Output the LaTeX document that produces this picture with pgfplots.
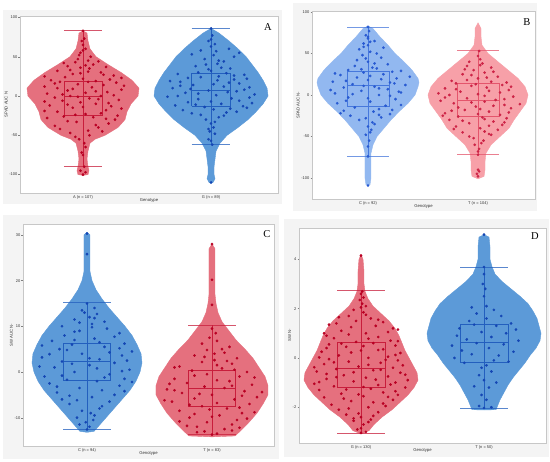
\documentclass[border=0pt]{standalone}
\usepackage{pgfplots}
\pgfplotsset{compat=1.18}
\usepackage{pgfplotstable}
\usepackage{fontspec}
\setmainfont{Liberation Sans}
\newfontfamily\serifletter{Liberation Serif}

\definecolor{redfill}{RGB}{229,112,126}
\definecolor{redline}{RGB}{200,30,60}
\definecolor{reddot}{RGB}{185,0,35}
\definecolor{bluefill}{RGB}{92,154,216}
\definecolor{blueline}{RGB}{35,95,190}
\definecolor{bluedot}{RGB}{20,70,180}
\definecolor{blueBfill}{RGB}{146,184,240}
\definecolor{blueBline}{RGB}{70,120,220}
\definecolor{blueBdot}{RGB}{40,90,210}
\definecolor{redBfill}{RGB}{247,160,168}
\definecolor{redBline}{RGB}{228,85,108}
\definecolor{redBdot}{RGB}{205,35,70}
\definecolor{panelbg}{RGB}{244,244,244}

% ---------- violin outlines: y, half-width in px ----------
\pgfplotstableread{
y w
83 0
80 4
70 5
60 7
50 13
40 25
30 38
20 49
10 56
0 55
-10 48
-20 44
-30 42
-40 35
-50 22
-55 12
-60 7
-70 5
-80 4
-90 5
-95 6
-100 5
-101 0
}\vAr
\pgfplotstableread{
y w
86 0
80 8
70 18
60 27
50 35
40 41
30 47
20 52
10 56
0 57
-10 52
-20 45
-30 37
-40 27
-50 16
-60 9
-70 5
-80 4
-90 3
-100 3
-105 4
-110 2
-111 0
}\vAb
\pgfplotstableread{
y w
83 0
80 5
70 12
60 20
50 27
40 36
30 44
20 50
15 51
10 50
0 47
-10 40
-20 31
-30 23
-40 16
-50 9
-60 5
-70 3
-80 3
-90 3
-100 3
-108 2
-109 0
}\vBb
\pgfplotstableread{
y w
87 0
80 3
70 3
60 4
50 10
40 20
30 30
20 40
10 47
0 50
-10 48
-20 42
-30 36
-40 31
-50 22
-60 13
-70 8
-80 7
-90 7
-98 6
-101 0
}\vBr
\pgfplotstableread{
y w
30.6 0
30 3
28 3
25 3
22 3
20 5
18 9
16 15
14 22
12 30
10 38
8 45
6 50
4 54
2 55
0 53
-2 49
-4 43
-6 35
-8 27
-10 19
-12 11
-13 7
-13.2 0
}\vCb
\pgfplotstableread{
y w
28 0
27 3
24 3
20 3
17 3
15 4
13 6
11 10
9 17
7 24
5 33
3 41
1 47
-1 53
-3 56
-5 56
-7 51
-9 45
-11 37
-13 28
-14 23
-14.2 0
}\vCr
\pgfplotstableread{
y w
4.2 0
4.0 2
3.5 3
3.0 3
2.7 4
2.4 7
2.1 12
1.8 20
1.5 28
1.2 34
0.9 38
0.6 41
0.3 44
0 48
-0.3 52
-0.6 56
-0.9 57
-1.2 53
-1.5 47
-1.8 39
-2.1 31
-2.4 21
-2.7 13
-2.95 8
-3.08 0
}\vDr
\pgfplotstableread{
y w
5.0 0
4.9 5
4.5 6
4.0 6
3.7 8
3.4 11
3.1 18
2.8 27
2.5 36
2.2 44
1.9 49
1.6 53
1.3 55
1.0 57
0.7 56
0.4 52
0.1 46
-0.2 41
-0.5 35
-0.8 29
-1.1 24
-1.4 20
-1.7 16
-2.0 13
-2.1 12
-2.11 0
}\vDb

% ---------- jittered observations: y, horizontal offset ----------
\pgfplotstableread{
y dx
-100 0.00
-97 0.02
-95 -0.02
-90 0.01
-75 0.00
-72 -0.01
-60 0.01
-55 -0.03
-50 0.05
-47 -0.10
-45 0.15
-42 -0.18
-40 0.12
-38 -0.22
-35 0.20
-33 -0.05
-30 0.25
-28 -0.28
-27 0.08
-26 -0.15
-25 0.27
-23 0.02
-20 -0.20
-18 0.18
-15 -0.08
-13 0.22
-12 -0.26
-10 0.10
-8 -0.02
-6 -0.16
-5 0.28
-3 0.05
-2 -0.22
0 0.14
0 -0.10
1 0.24
3 -0.28
4 0.02
5 0.19
7 -0.12
8 0.30
10 -0.20
11 0.07
12 -0.30
14 0.16
15 -0.04
17 0.26
18 -0.18
19 0.10
20 -0.25
21 0.21
22 0.00
24 -0.14
26 0.24
28 -0.08
30 0.14
32 -0.20
35 0.05
37 0.18
38 -0.12
40 0.08
42 -0.15
44 0.12
47 -0.04
50 0.06
55 -0.02
60 0.02
65 0.00
73 0.01
83 0.00
-65 0.02
-52 -0.06
-44 0.04
-37 0.10
-32 -0.12
-29 0.18
-24 -0.06
-22 0.14
-19 -0.30
-16 0.30
-14 0.00
-11 -0.12
-9 0.20
-7 -0.30
-4 0.12
-1 -0.04
2 -0.16
6 0.10
9 -0.08
13 0.32
16 -0.22
18 0.04
23 0.30
25 -0.30
27 0.16
29 -0.02
31 0.04
33 -0.10
36 -0.02
39 0.02
43 -0.06
45 0.04
52 -0.03
58 0.00
70 -0.01
}\pAr
\pgfplotstableread{
y dx
-110 0
-62 0.01
-55 -0.02
-48 0.03
-45 -0.01
-40 0.02
-35 0.00
-30 -0.04
-27 0.06
-25 0.10
-22 -0.15
-20 0.20
-18 -0.22
-16 0.15
-14 -0.05
-13 0.25
-12 -0.28
-10 0.08
-8 -0.18
-6 0.22
-4 -0.10
-2 0.30
0 -0.26
1 0.04
2 0.34
4 -0.20
5 0.13
7 -0.02
8 0.26
10 -0.30
12 0.10
14 -0.14
16 0.22
18 -0.24
20 0.05
22 0.28
24 -0.08
26 0.18
28 -0.26
29 0.12
32 0.00
35 0.15
38 -0.12
41 0.05
44 0.10
47 -0.05
50 0.18
53 -0.15
55 0.22
57 0.04
58 -0.08
60 0.14
63 0.00
66 0.03
70 -0.02
72 0.00
77 0.01
86 0.00
-57 0.00
-42 -0.02
-33 0.03
-24 -0.08
-21 0.12
-17 0.02
-15 0.28
-11 -0.12
-9 0.32
-7 0.00
-3 0.16
-1 -0.34
3 -0.10
6 0.20
9 -0.16
11 0.30
13 -0.24
15 0.02
17 0.14
19 -0.32
21 0.18
23 -0.18
25 0.06
27 0.26
30 -0.10
34 -0.02
36 0.08
40 -0.04
45 0.06
52 0.02
}\pAb
\pgfplotstableread{
y dx
-109 0
-74 0.00
-55 0.01
-48 -0.02
-42 0.03
-38 0.00
-35 0.06
-30 -0.08
-27 0.12
-25 -0.16
-23 0.20
-22 -0.25
-20 0.05
-18 0.22
-15 -0.12
-13 0.16
-10 -0.28
-8 0.02
-5 0.25
-3 -0.18
0 0.10
2 -0.30
3 0.30
5 -0.06
7 0.18
9 -0.22
10 0.06
12 0.34
13 -0.14
14 0.24
16 -0.32
18 0.00
20 0.26
21 -0.10
22 0.38
24 -0.25
25 0.14
27 -0.04
28 0.22
30 -0.18
32 0.08
35 -0.12
37 0.18
40 0.00
42 -0.10
45 0.12
48 -0.05
52 0.02
55 -0.08
57 0.14
60 0.00
62 -0.04
65 0.06
68 0.00
72 -0.02
77 0.01
82 0.00
-62 0.00
-45 0.02
-33 0.04
-28 -0.02
-24 0.10
-19 -0.22
-17 0.10
-12 0.30
-7 -0.20
-4 0.00
-1 0.20
1 -0.14
4 0.28
6 -0.34
8 0.10
11 -0.04
15 0.20
17 -0.20
19 0.12
23 0.02
26 -0.30
29 0.30
31 -0.06
33 0.04
38 0.06
44 -0.02
50 0.08
58 -0.04
64 0.02
70 0.00
}\pBb
\pgfplotstableread{
y dx
-98 0.00
-95 -0.01
-92 0.01
-72 0.00
-65 0.01
-60 -0.03
-55 0.05
-50 -0.08
-47 0.10
-45 -0.14
-42 0.18
-40 0.02
-38 -0.20
-36 0.22
-34 -0.08
-32 0.14
-30 -0.26
-28 0.26
-27 0.04
-26 -0.18
-24 0.20
-22 -0.30
-20 0.10
-18 -0.12
-16 0.30
-14 -0.02
-12 0.24
-10 -0.22
-8 0.06
-7 -0.34
-6 0.16
-4 -0.10
-2 0.32
0 -0.26
1 0.00
3 0.20
4 -0.16
6 0.28
8 -0.30
9 0.08
11 -0.06
12 0.22
14 -0.20
16 0.12
18 -0.10
20 0.00
22 0.18
25 -0.14
27 0.06
30 -0.04
33 0.12
35 -0.10
38 0.04
40 -0.08
43 0.02
47 0.00
53 0.01
-90 0.00
-68 0.00
-58 0.03
-52 -0.04
-48 0.12
-44 0.06
-41 -0.22
-37 0.10
-33 0.24
-31 -0.14
-29 0.06
-25 -0.32
-23 0.00
-21 0.28
-19 -0.24
-17 0.02
-15 -0.18
-13 0.14
-11 0.38
-9 -0.06
-5 0.24
-3 -0.30
-1 0.06
2 -0.36
5 0.10
7 -0.20
10 0.30
13 -0.02
15 0.26
17 -0.24
21 0.08
24 -0.06
28 0.14
31 -0.12
36 0.02
}\pBr
\pgfplotstableread{
y dx
-12.6 0.00
-12 0.02
-11 -0.01
-10.5 0.05
-10 -0.08
-9 0.03
-8 0.10
-7 -0.14
-6.5 0.18
-6 -0.20
-5.5 0.04
-5 0.22
-4.5 -0.24
-4 0.12
-3.5 -0.06
-3 0.26
-2.5 -0.30
-2 0.08
-1.7 -0.16
-1.5 0.30
-1 -0.34
-0.5 0.18
0 -0.10
0.5 0.34
1 -0.26
1.5 0.02
2 0.22
2.3 -0.20
2.8 0.10
3.2 -0.36
3.6 0.28
4 -0.04
4.5 0.36
5 -0.22
5.5 0.14
6 -0.12
6.2 0.30
6.8 -0.28
7.3 0.06
8 -0.18
8.5 0.26
9 -0.06
9.5 0.16
10 -0.20
10.5 0.04
11 0.14
11.5 -0.10
12 0.02
12.7 0.08
13.5 -0.04
14 0.06
15 0.00
25.8 0.00
30.3 0.00
-11.5 -0.06
-9.5 0.06
-8.5 -0.04
-7.5 0.12
-6.2 -0.08
-5.2 -0.14
-4.2 0.30
-3.2 -0.24
-2.2 0.36
-1.2 0.14
-0.8 -0.20
0.2 0.28
0.8 0.08
1.2 -0.38
1.8 -0.12
2.5 0.32
3 0.02
3.9 -0.30
4.3 0.18
4.8 -0.16
5.2 0.26
5.8 -0.36
6.5 0.10
7 -0.10
7.7 0.22
8.8 -0.10
9.8 0.04
10.8 -0.06
11.8 0.06
13 -0.02
}\pCb
\pgfplotstableread{
y dx
-13.7 0.00
-13.5 0.04
-13 -0.06
-12.5 0.10
-12 -0.12
-11.5 0.16
-11 -0.04
-10.5 0.20
-10 -0.18
-9.5 0.06
-9 0.24
-8.5 -0.26
-8 0.12
-7.5 -0.08
-7 0.30
-6.5 -0.32
-6 0.18
-5.8 -0.14
-5.5 0.36
-5 0.00
-4.6 -0.24
-4.2 0.26
-3.8 -0.36
-3.5 0.10
-3.2 -0.06
-2.8 0.32
-2.4 -0.20
-2 0.14
-1.5 -0.30
-1 0.22
-0.5 -0.04
0 0.28
0.3 -0.16
0.8 0.08
1.2 -0.26
1.8 0.16
2.2 -0.08
2.6 0.02
3 0.20
3.6 -0.14
4.2 0.10
4.8 -0.04
5.5 0.14
6.2 -0.08
6.8 0.04
7.5 -0.02
8.5 0.03
9.5 0.00
14.7 0.00
20.2 0.00
28 0.00
-13.2 -0.12
-12.8 0.16
-12.2 0.22
-11.8 -0.20
-10.8 -0.26
-10.2 0.28
-9.8 0.00
-9.2 -0.14
-8.8 0.34
-8.2 -0.02
-7.8 0.22
-7.2 -0.18
-6.8 0.04
-6.2 -0.38
-5.2 0.24
-4.8 -0.10
-4.4 0.40
-4 -0.30
-3 0.16
-2.6 -0.34
-1.8 0.04
-1.2 0.34
-0.8 -0.14
0.5 0.18
1 -0.30
1.5 0.04
2.4 0.12
3.3 -0.06
4 0.02
5 0.08
}\pCr
\pgfplotstableread{
y dx
-3.04 0.00
-3.0 0.04
-2.9 -0.03
-2.7 0.02
-2.55 -0.06
-2.5 0.08
-2.4 0.00
-2.3 -0.12
-2.2 0.14
-2.1 -0.18
-2.0 0.06
-1.95 0.20
-1.9 -0.24
-1.8 0.10
-1.75 -0.08
-1.7 0.26
-1.6 -0.30
-1.55 0.02
-1.5 0.30
-1.45 -0.16
-1.4 0.18
-1.3 -0.34
-1.25 0.08
-1.2 0.36
-1.15 -0.22
-1.1 0.14
-1.05 -0.38
-1.0 0.28
-0.95 -0.06
-0.9 0.38
-0.85 -0.28
-0.8 0.04
-0.75 0.22
-0.7 -0.14
-0.6 0.32
-0.55 -0.36
-0.5 0.10
-0.45 -0.20
-0.4 0.26
-0.35 -0.02
-0.3 0.34
-0.25 -0.30
-0.2 0.16
-0.15 -0.10
-0.1 0.30
-0.05 -0.26
0.0 0.06
0.05 0.22
0.1 -0.18
0.2 0.32
0.25 -0.32
0.3 0.00
0.35 0.18
0.45 -0.12
0.5 0.28
0.55 -0.26
0.6 0.10
0.65 -0.04
0.7 0.24
0.8 -0.22
0.85 0.14
0.9 -0.28
1.0 0.04
1.05 0.22
1.1 -0.16
1.2 0.26
1.25 -0.08
1.3 0.12
1.4 -0.20
1.45 0.18
1.5 -0.04
1.6 0.08
1.7 -0.10
1.85 0.02
2.05 0.00
2.2 0.01
2.6 0.00
2.7 0.01
4.15 0.00
-2.85 0.00
-2.6 0.06
-2.45 -0.06
-2.35 0.10
-2.25 -0.02
-2.05 -0.10
-1.85 0.18
-1.65 -0.14
-1.58 0.22
-1.48 -0.02
-1.35 0.28
-1.28 -0.12
-1.18 0.02
-1.08 0.24
-0.98 -0.34
-0.88 0.12
-0.78 -0.20
-0.68 0.36
-0.58 -0.06
-0.48 0.16
-0.38 -0.38
-0.28 0.06
-0.18 -0.22
-0.08 0.20
0.02 -0.34
0.12 0.28
0.22 -0.08
0.32 0.14
0.4 -0.28
0.48 0.02
0.58 -0.16
0.68 0.30
0.78 0.06
0.95 -0.10
1.15 0.30
1.35 -0.26
1.55 0.14
1.65 -0.18
1.75 0.04
1.95 -0.06
2.1 0.04
2.35 -0.01
2.45 0.02
1.0 -0.30
-0.65 -0.28
}\pDr
\pgfplotstableread{
y dx
-2.03 0.00
-2.0 0.06
-1.95 -0.04
-1.7 0.02
-1.5 -0.02
-1.2 0.04
-1.15 -0.08
-1.0 0.10
-0.9 0.00
-0.7 -0.04
-0.55 0.06
-0.4 -0.02
-0.3 0.02
-0.2 -0.16
-0.15 0.20
-0.1 0.08
0.0 -0.24
0.1 0.12
0.15 -0.10
0.25 0.24
0.3 -0.18
0.4 0.04
0.5 -0.26
0.55 0.16
0.6 -0.06
0.7 0.28
0.75 -0.14
0.85 0.06
0.9 -0.22
1.0 0.18
1.05 -0.02
1.15 0.26
1.2 -0.20
1.3 0.10
1.35 -0.08
1.4 0.22
1.5 -0.12
1.6 0.02
1.7 0.14
1.8 -0.06
1.95 0.08
2.05 -0.10
2.1 0.02
2.5 0.00
2.8 0.01
3.0 -0.01
3.4 0.00
3.69 0.00
5.0 0.00
}\pDb

% violin: each half is a closed polygon (half-width is 0 at both ends)
% #1 table, #2 centre, #3 px per unit, #4 colour
\newcommand{\violin}[4]{%
  \addplot[fill=#4, draw=#4, line width=0.4pt] table[x expr={#2+\thisrow{w}/#3}, y=y] {#1};
  \addplot[fill=#4, draw=#4, line width=0.4pt] table[x expr={#2-\thisrow{w}/#3}, y=y] {#1};
}
% #1 left #2 right #3 q1 #4 median #5 q3 #6 low #7 high #8 colour #9 centre
\newcommand{\violinbox}[9]{%
  \addplot[#8, line width=0.5pt] coordinates {(#9,#6) (#9,#7)};
  \addplot[#8, line width=0.5pt] coordinates {(#1,#3) (#2,#3) (#2,#5) (#1,#5) (#1,#3)};
  \addplot[#8, line width=0.5pt] coordinates {(#1,#4) (#2,#4)};
  \addplot[#8, line width=0.7pt, opacity=0.75] coordinates {(#1,#6) (#2,#6)};
  \addplot[#8, line width=0.7pt, opacity=0.75] coordinates {(#1,#7) (#2,#7)};
}
% #1 table #2 centre #3 colour
\newcommand{\jitter}[3]{%
  \addplot[only marks, mark=*, mark size=1.15pt, color=#3] table[x expr={#2+\thisrow{dx}}, y=y] {#1};
}

\pgfplotsset{
  vstyle/.style={
    scale only axis,
    axis background/.style={fill=white},
    axis line style={draw=black!22, line width=0.5pt},
    tick style={draw=black!50, line width=0.3pt},
    major tick length=1.5pt,
    tick align=outside,
    xtick={0,1},
    x tick style={draw=none},
    xtick pos=bottom, ytick pos=left,
    ticklabel style={font=\fontsize{4}{4.5}\selectfont, text=black!80, inner sep=1pt},
    label style={font=\fontsize{4.2}{5}\selectfont, text=black!80},
    xlabel={Genotype},
    xlabel style={inner sep=0.5pt, yshift=2.5pt},
    ylabel style={inner sep=0.5pt},
    /pgf/number format/assume math mode=true,
  },
}
\tikzset{letter/.style={font=\serifletter\fontsize{10.5}{12}\selectfont, anchor=center}}

\begin{document}
\begin{tikzpicture}
\fill[white] (0pt,0pt) rectangle (550pt,462pt);
\path[use as bounding box] (0pt,0pt) rectangle (550pt,462pt);
\fill[panelbg] (3pt,258pt) rectangle (282pt,452pt);
\fill[panelbg] (293pt,251pt) rectangle (537pt,459pt);
\fill[panelbg] (3pt,3pt) rectangle (279pt,247pt);
\fill[panelbg] (284pt,5pt) rectangle (549pt,243pt);

% ---------------- A ----------------
\begin{axis}[vstyle, at={(20pt,269pt)}, anchor=south west, width=258pt, height=177pt,
  xmin=-0.492, xmax=1.523, ymin=-123.4, ymax=101.8,
  ytick={-100,-50,0,50,100},
  xticklabels={A (n = 107), G (n = 89)},
  ylabel={SPAD AUC N}]
  \violin{\vAr}{0}{128}{redfill}
  \violin{\vAb}{1}{128}{bluefill}
  \violinbox{-0.15}{0.15}{-25}{0}{19}{-90}{83}{redline}{0}
  \violinbox{0.848}{1.152}{-12.7}{7.6}{29}{-62}{86}{blueline}{1}
  \jitter{\pAr}{0}{reddot}
  \jitter{\pAb}{1}{bluedot}
  \node[letter, xshift=-10pt, yshift=-11pt] at (rel axis cs:1,1) {A};
\end{axis}

% ---------------- B ----------------
\begin{axis}[vstyle, at={(312pt,263pt)}, anchor=south west, width=223pt, height=188pt,
  xmin=-0.509, xmax=1.518, ymin=-125.3, ymax=101.2,
  ytick={-100,-50,0,50,100},
  xticklabels={C (n = 92), T (n = 104)},
  ylabel={SPAD AUC N-}]
  \violin{\vBb}{0}{110}{blueBfill}
  \violin{\vBr}{1}{110}{redBfill}
  \violinbox{-0.19}{0.19}{-13.7}{12}{28.5}{-74}{82}{blueBline}{0}
  \violinbox{0.81}{1.19}{-25.7}{-6.4}{13.7}{-71.5}{54}{redBline}{1}
  \jitter{\pBb}{0}{blueBdot}
  \jitter{\pBr}{1}{redBdot}
  \node[letter, xshift=-8pt, yshift=-11pt] at (rel axis cs:1,1) {B};
\end{axis}

% ---------------- C ----------------
\begin{axis}[vstyle, at={(23pt,16pt)}, anchor=south west, width=251pt, height=222pt,
  xmin=-0.512, xmax=1.496, ymin=-16.2, ymax=32.4,
  ytick={-10,0,10,20,30},
  xticklabels={C (n = 94), T (n = 83)},
  ylabel={SW AUC N-}]
  \violin{\vCb}{0}{125}{bluefill}
  \violin{\vCr}{1}{125}{redfill}
  \violinbox{-0.19}{0.19}{-1.7}{2.3}{6.2}{-12.6}{15.3}{blueline}{0}
  \violinbox{0.81}{1.19}{-7.5}{-3.5}{0.3}{-13.7}{10.2}{redline}{1}
  \jitter{\pCb}{0}{bluedot}
  \jitter{\pCr}{1}{reddot}
  \node[letter, xshift=-7pt, yshift=-10pt] at (rel axis cs:1,1) {C};
\end{axis}

% ---------------- D ----------------
\begin{axis}[vstyle, at={(299pt,19pt)}, anchor=south west, width=247pt, height=215pt,
  xmin=-0.504, xmax=1.504, ymin=-3.45, ymax=5.27,
  ytick={-2,0,2,4},
  xticklabels={G (n = 130), T (n = 50)},
  ylabel={SW N-}]
  \violin{\vDr}{0}{123}{redfill}
  \violin{\vDb}{1}{123}{bluefill}
  \violinbox{-0.195}{0.195}{-1.2}{-0.4}{0.65}{-3.04}{2.73}{redline}{0}
  \violinbox{0.805}{1.195}{-0.16}{0.65}{1.38}{-2.03}{3.69}{blueline}{1}
  \jitter{\pDr}{0}{reddot}
  \jitter{\pDb}{1}{bluedot}
  \node[letter, xshift=-11pt, yshift=-8pt] at (rel axis cs:1,1) {D};
\end{axis}
\end{tikzpicture}
\end{document}
